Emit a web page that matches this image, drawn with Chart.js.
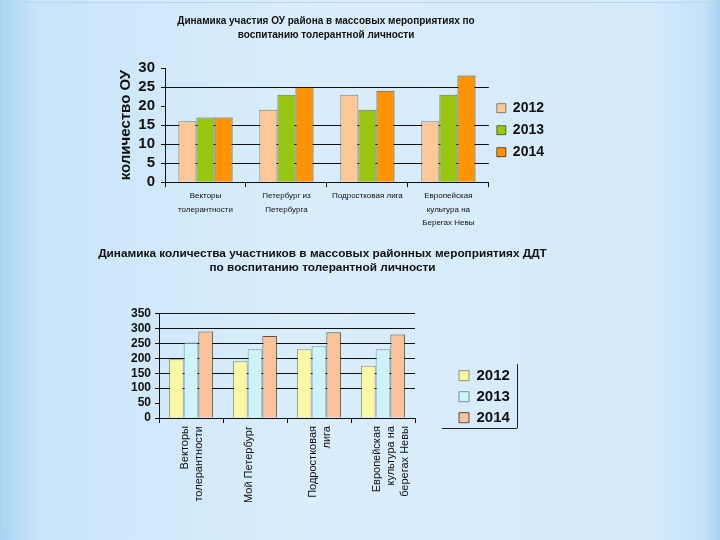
<!DOCTYPE html>
<html>
<head>
<meta charset="utf-8">
<script src="https://cdn.jsdelivr.net/npm/chart.js@4"></script>
<style>
    html, body {
        margin: 0;
        padding: 0;
        width: 720px;
        height: 540px;
        overflow: hidden;
    }
    body {
        position: relative;
        background: linear-gradient(90deg, #a6d2f2 0%, #c9e5f9 5%, #d9edfb 40%, #d6ebfb 90%, #c2e1f8 98%, #a9d3f2 100%);
        font-family: "Liberation Sans", Arial, sans-serif;
    }
    .frame {
        position: absolute;
        left: 3px; top: 2px; right: 3px; bottom: 8px;
        border-top: 1px solid #b9d6ec;
        border-left: 1px solid #b9d6ec;
        border-right: 1px solid #b9d6ec;
    }
    .box {
        position: absolute;
    }
    #box1 { left: 95px; top: 0px; width: 465px; height: 232px; }
    #box2 { left: 90px; top: 240px; width: 465px; height: 290px; }
</style>
</head>
<body>
<div class="frame"></div>
<div class="box" id="box1"><canvas id="chart1"></canvas></div>
<div class="box" id="box2"><canvas id="chart2"></canvas></div>

<script>
// chart 1: number of schools
const categories1 = [
    ["Векторы", "толерантности"],
    ["Петербург из", "Петербурга"],
    "Подростковая лига",
    ["Европейская", "культура на", "Берегах Невы"]
];
const years = ["2012", "2013", "2014"];
const schools2012 = [16, 19, 23, 16];
const schools2013 = [17, 23, 19, 23];
const schools2014 = [17, 25, 24, 28];

// chart 2: number of participants
const categories2 = [
    ["Векторы", "толерантности"],
    "Мой Петербург",
    ["Подростковая", "лига"],
    ["Европейская", "культура на", "берегах Невы"]
];
const people2012 = [197, 190, 230, 175];
const people2013 = [253, 230, 240, 230];
const people2014 = [290, 275, 287, 280];

Chart.defaults.font.family = "'Liberation Sans', Arial, sans-serif";
Chart.defaults.color = "#111";
Chart.defaults.animation = false;

// partial frame right and below the legend, as in the original
const legendFrame = {
    id: 'legendFrame',
    afterDraw(chart) {
        const boxes = chart.legend.legendHitBoxes;
        if (!boxes || !boxes.length) return;
        let minX = 9999, maxX = 0, minY = 9999, maxY = 0;
        boxes.forEach(b => {
            minX = Math.min(minX, b.left);
            maxX = Math.max(maxX, b.left + b.width);
            minY = Math.min(minY, b.top);
            maxY = Math.max(maxY, b.top + b.height);
        });
        const ctx = chart.ctx;
        ctx.save();
        ctx.strokeStyle = "#222";
        ctx.lineWidth = 1;
        ctx.beginPath();
        ctx.moveTo(Math.round(maxX + 7) + 0.5, minY - 4);
        ctx.lineTo(Math.round(maxX + 7) + 0.5, maxY + 3);
        ctx.moveTo(minX - 17, Math.round(maxY + 3) + 0.5);
        ctx.lineTo(maxX + 7, Math.round(maxY + 3) + 0.5);
        ctx.stroke();
        ctx.restore();
    }
};

// fixed legend width, extra room goes to the right of the items
const legendWidth = {
    id: 'legendWidth',
    afterInit(chart, args, opts) {
        const legend = chart.legend;
        const fit = legend.fit;
        legend.fit = function () {
            fit.call(this);
            this.width = opts.width;
        };
    }
};

const hideGrid = (values) => (c) => values.includes(c.tick.value) ? 'rgba(0,0,0,0)' : '#111';

new Chart(document.getElementById('chart1'), {
    type: 'bar',
    data: {
        labels: categories1,
        datasets: [
            { label: years[0], data: schools2012, backgroundColor: '#fcc897', borderColor: 'rgba(60,40,20,0.55)', borderWidth: 1 },
            { label: years[1], data: schools2013, backgroundColor: '#99c60e', borderColor: 'rgba(30,40,0,0.6)', borderWidth: 1 },
            { label: years[2], data: schools2014, backgroundColor: '#ff9300', borderColor: 'rgba(40,20,0,0.7)', borderWidth: 1 }
        ]
    },
    options: {
        responsive: true,
        maintainAspectRatio: false,
        layout: { padding: { left: 3, right: 6, top: 0, bottom: 0 } },
        datasets: { bar: { categoryPercentage: 0.67, barPercentage: 1 } },
        plugins: {
            title: {
                display: true,
                text: ["Динамика участия ОУ района в массовых мероприятиях по", "воспитанию толерантной личности"],
                font: { size: 10, weight: 'bold', lineHeight: 1.4 },
                color: '#111',
                padding: { top: 14, bottom: 26 }
            },
            legend: {
                position: 'right',
                title: { display: true, text: '', padding: { top: 14, bottom: 0 } },
                labels: {
                    boxWidth: 9,
                    boxHeight: 9,
                    padding: 8,
                    font: { size: 14, weight: 'bold' },
                    color: '#111'
                }
            },
            tooltip: { enabled: false }
        },
        scales: {
            x: {
                grid: { offset: true, drawOnChartArea: false, tickLength: 5, tickColor: '#111' },
                border: { color: '#111' },
                ticks: { maxRotation: 0, font: { size: 8, lineHeight: 1.7 }, color: '#111', padding: 2 }
            },
            y: {
                min: 0,
                max: 30,
                ticks: { stepSize: 5, autoSkip: false, font: { size: 15, weight: 'bold' }, color: '#111', padding: 6 },
                grid: { color: hideGrid([0, 20, 30]), tickLength: 4, tickColor: '#111' },
                border: { color: '#111' },
                title: {
                    display: true,
                    text: "количество ОУ",
                    font: { size: 15, weight: 'bold' },
                    color: '#111',
                    padding: { top: 19, bottom: 0 }
                },
                afterFit(scale) { scale.width = 67; }
            }
        }
    }
});

new Chart(document.getElementById('chart2'), {
    type: 'bar',
    data: {
        labels: categories2,
        datasets: [
            { label: years[0], data: people2012, backgroundColor: '#fbf8a4', borderColor: 'rgba(40,40,0,0.45)', borderWidth: 1 },
            { label: years[1], data: people2013, backgroundColor: '#ccf5fb', borderColor: 'rgba(0,40,40,0.45)', borderWidth: 1 },
            { label: years[2], data: people2014, backgroundColor: '#f9c49a', borderColor: 'rgba(40,20,0,0.7)', borderWidth: 1 }
        ]
    },
    plugins: [legendFrame, legendWidth],
    options: {
        responsive: true,
        maintainAspectRatio: false,
        layout: { padding: { left: 3, right: 3, top: 0, bottom: 24 } },
        datasets: { bar: { categoryPercentage: 0.69, barPercentage: 1 } },
        plugins: {
            title: {
                display: true,
                text: ["Динамика количества участников в массовых районных мероприятиях ДДТ", "по воспитанию толерантной личности"],
                font: { size: 11.8, weight: 'bold', lineHeight: 1.25 },
                color: '#111',
                padding: { top: 6, bottom: 38 }
            },
            legendWidth: { width: 99 },
            legend: {
                position: 'right',
                title: { display: true, text: '', padding: { top: 33, bottom: 0 } },
                labels: {
                    boxWidth: 10,
                    boxHeight: 10,
                    padding: 6,
                    font: { size: 15, weight: 'bold' },
                    color: '#111'
                }
            },
            tooltip: { enabled: false }
        },
        scales: {
            x: {
                grid: { offset: true, drawOnChartArea: false, tickLength: 5, tickColor: '#111' },
                border: { color: '#111' },
                ticks: { minRotation: 90, maxRotation: 90, labelOffset: -6, font: { size: 11, lineHeight: 1.25 }, color: '#111', padding: 3 }
            },
            y: {
                min: 0,
                max: 350,
                ticks: { stepSize: 50, autoSkip: false, font: { size: 12, weight: 'bold' }, color: '#111', padding: 4 },
                grid: { color: hideGrid([0, 50]), tickLength: 4, tickColor: '#111' },
                border: { color: '#111' },
                afterFit(scale) { scale.width = 66; }
            },
            gap: {
                type: 'linear',
                position: 'right',
                grid: { display: false },
                border: { display: false },
                ticks: { display: false },
                afterFit(scale) { scale.width = 38; }
            }
        }
    }
});
</script>
</body>
</html>
